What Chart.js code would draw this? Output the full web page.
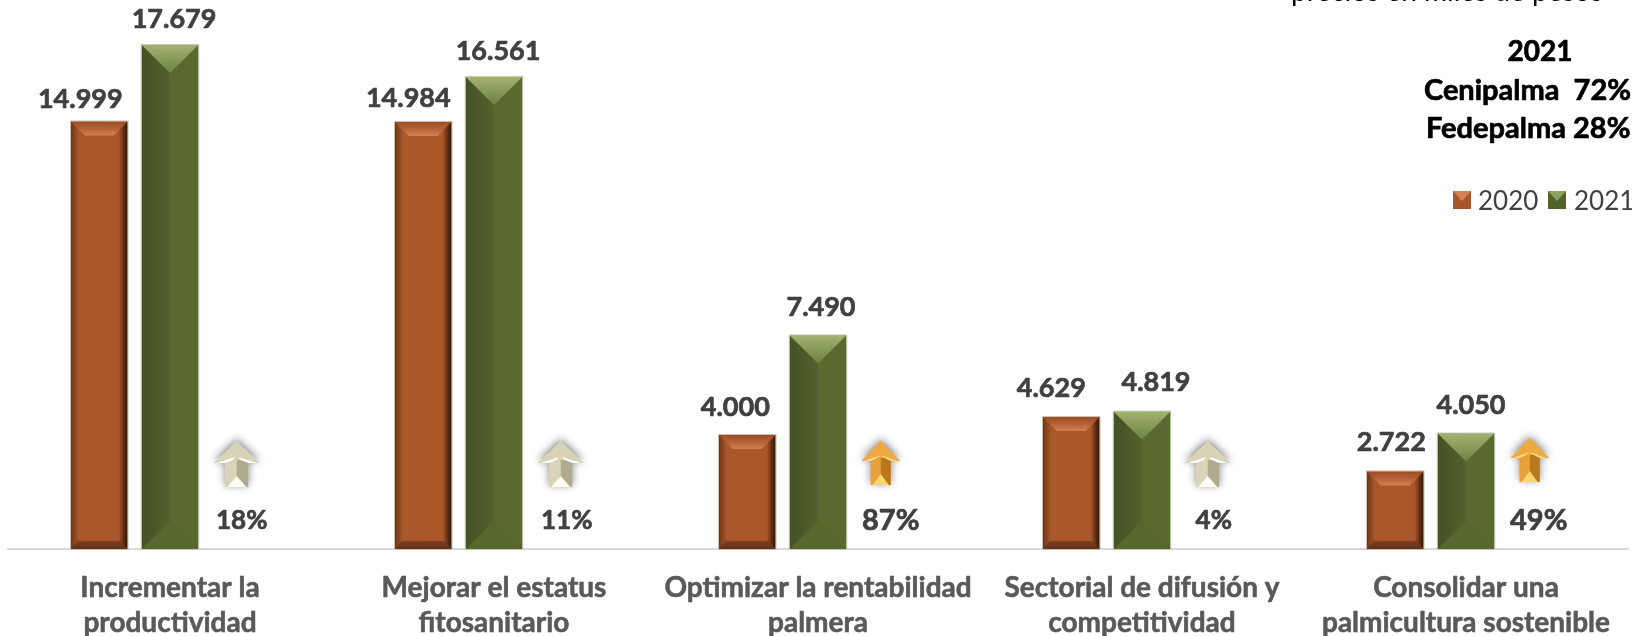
<!DOCTYPE html>
<html>
<head>
<meta charset="utf-8">
<style>
  html, body { margin: 0; padding: 0; background: #fff; overflow: hidden; }
  #wrap { width: 1632px; height: 636px; }
</style>
<script src="https://cdn.jsdelivr.net/npm/chart.js@4"></script>
</head>
<body>
<div id="wrap"><canvas id="chart"></canvas></div>
<script>
// values
var categories = [
  ['Incrementar la', 'productividad'],
  ['Mejorar el estatus', 'fitosanitario'],
  ['Optimizar la rentabilidad', 'palmera'],
  ['Sectorial de difusión y', 'competitividad'],
  ['Consolidar una', 'palmicultura sostenible']
];
var values2020 = [14999, 14984, 4000, 4629, 2722];
var values2021 = [17679, 16561, 7490, 4819, 4050];
var growthPct = [18, 11, 87, 4, 49];
var sideNote = ['2021', 'Cenipalma  72%', 'Fedepalma 28%'];
var clippedLine = 'precios en miles de pesos';

// hand nudges, the labels in the original were dragged around
var labelNudge2020 = [[-19, -22], [-15, -24], [-12, -28], [-20, -29], [-4, -29]];
var labelNudge2021 = [[4, -26], [4, -26], [3, -28], [14, -29], [5, -28]];
var arrowNudge = [[-4, 0], [-4, 0], [-8, 0], [-5, 0], [-7, -3]];
var pctNudgeX = [1, 2, 2, 1, 2];

var FONT = 'Lato, "Open Sans", sans-serif';
var INK = '#404040';

function fmt(v) {
  return String(v).replace(/\B(?=(\d{3})+$)/g, '.');
}

function hGrad(ctx, x0, x1, stops) {
  var g = ctx.createLinearGradient(x0, 0, x1, 0);
  stops.forEach(function (s) { g.addColorStop(s[0], s[1]); });
  return g;
}

function vGrad(ctx, y0, y1, stops) {
  var g = ctx.createLinearGradient(0, y0, 0, y1);
  stops.forEach(function (s) { g.addColorStop(s[0], s[1]); });
  return g;
}

function poly(ctx, pts, fill) {
  ctx.beginPath();
  ctx.moveTo(pts[0][0], pts[0][1]);
  for (var i = 1; i < pts.length; i++) ctx.lineTo(pts[i][0], pts[i][1]);
  ctx.closePath();
  ctx.fillStyle = fill;
  ctx.fill();
}

// Lato bold is a bit thinner than the original face
function heavyText(ctx, text, x, y, color) {
  ctx.fillStyle = color;
  ctx.strokeStyle = color;
  ctx.lineWidth = 0.7;
  ctx.lineJoin = 'round';
  ctx.strokeText(text, x, y);
  ctx.fillText(text, x, y);
}

function drawOrangeBar(ctx, l, r, t, b) {
  ctx.fillStyle = hGrad(ctx, l, r, [
    [0, '#6e3616'], [0.14, '#a9562a'], [0.84, '#aa572a'], [0.92, '#6b3312'], [1, '#2e1405']
  ]);
  ctx.fillRect(l, t, r - l, b - t);
  var bevel = 14;
  poly(ctx, [[l, t], [r, t], [r - bevel, t + bevel], [l + bevel, t + bevel]],
    vGrad(ctx, t, t + bevel, [[0, '#9c4c20'], [0.5, '#b5623a'], [1, '#d67f52']]));
  poly(ctx, [[l + 7, b - 8], [r - 7, b - 8], [r, b], [l, b]],
    vGrad(ctx, b - 8, b, [[0, '#7a4023'], [1, '#5f3018']]));
  ctx.strokeStyle = '#c9bfb0';
  ctx.lineWidth = 1;
  ctx.strokeRect(l - 0.5, t - 0.5, r - l + 1, b - t + 1);
}

function drawGreenBar(ctx, l, r, t, b) {
  var m = (l + r) / 2;
  ctx.fillStyle = hGrad(ctx, l, m, [[0, '#445126'], [1, '#53622d']]);
  ctx.fillRect(l, t, m - l, b - t);
  ctx.fillStyle = '#59692f';
  ctx.fillRect(m, t, r - m, b - t);
  poly(ctx, [[l, b], [m, b - 28], [r, b]], '#56682d');
  poly(ctx, [[l, t], [r, t], [m, t + 28]],
    vGrad(ctx, t, t + 28, [[0, '#a3b26f'], [1, '#6d8243']]));
  ctx.strokeStyle = '#c3c8b0';
  ctx.lineWidth = 1;
  ctx.strokeRect(l - 0.5, t - 0.5, r - l + 1, b - t + 1);
}

function drawArrow(ctx, cx, tip, warm) {
  var headW = warm ? 39 : 46;
  var shaftW = warm ? 20 : 23;
  var headH = warm ? 20 : 22;
  var total = warm ? 44 : 46;
  var c = warm
    ? { light: '#e8a23c', dark: '#b9771f', top: '#f0a93f', tri: '#fbd36f', glint: '#fbd98a' }
    : { light: '#d9d4b8', dark: '#b0aa8e', top: '#d8d3b6', tri: '#fffef4', glint: '#ffffff' };
  var base = tip + headH;
  var bot = tip + total;
  var hw = headW / 2;
  var sw = shaftW / 2;
  var outline = [[cx, tip], [cx + hw, base], [cx + sw, base], [cx + sw, bot], [cx - sw, bot], [cx - sw, base], [cx - hw, base]];

  ctx.save();
  ctx.shadowColor = 'rgba(60,60,60,0.65)';
  ctx.shadowBlur = 9;
  ctx.shadowOffsetY = -2;
  poly(ctx, outline, c.top);
  ctx.restore();

  poly(ctx, [[cx - sw, base - 3], [cx, base - 3], [cx, bot], [cx - sw, bot]], c.light);
  poly(ctx, [[cx, base - 3], [cx + sw, base - 3], [cx + sw, bot], [cx, bot]], c.dark);
  poly(ctx, [[cx - sw + 2, bot], [cx, bot - 11], [cx + sw - 2, bot]], c.tri);
  poly(ctx, [[cx - hw + 3, base], [cx - sw + 10, base - 6], [cx - 4, base - 3], [cx - sw, base]], c.glint);
  poly(ctx, [[cx + hw - 3, base], [cx + sw - 10, base - 6], [cx + 4, base - 3], [cx + sw, base]], c.glint);
}

function drawSwatch(ctx, x, y, s, kind) {
  var m = x + s / 2;
  if (kind === 0) {
    ctx.fillStyle = '#a9552a';
    ctx.fillRect(x, y, s, s);
    poly(ctx, [[x, y], [x + s, y], [m, y + s * 0.55]], '#d67f52');
  } else {
    ctx.fillStyle = '#52622d';
    ctx.fillRect(x, y, s, s);
    poly(ctx, [[x, y], [x + s, y], [m, y + s * 0.55]], '#8fa25f');
  }
}

var bevelPlugin = {
  id: 'bevelPlugin',
  afterDatasetsDraw: function (chart) {
    var ctx = chart.ctx;
    var metaA = chart.getDatasetMeta(0).data;
    var metaB = chart.getDatasetMeta(1).data;
    var metaC = chart.getDatasetMeta(2).data;
    var base = chart.scales.y.getPixelForValue(0);

    ctx.save();
    categories.forEach(function (c, i) {
      var a = metaA[i];
      var b = metaB[i];
      drawOrangeBar(ctx, a.x - a.width / 2, a.x + a.width / 2, a.y, a.base);
      drawGreenBar(ctx, b.x - b.width / 2, b.x + b.width / 2, b.y, b.base);

      ctx.font = 'bold 27px ' + FONT;
      ctx.textAlign = 'center';
      ctx.textBaseline = 'middle';
      heavyText(ctx, fmt(values2020[i]), a.x + labelNudge2020[i][0], a.y + labelNudge2020[i][1], INK);
      heavyText(ctx, fmt(values2021[i]), b.x + labelNudge2021[i][0], b.y + labelNudge2021[i][1], INK);

      // third series only carries the growth arrow and its percentage
      var p = metaC[i];
      var warm = growthPct[i] >= 40;
      drawArrow(ctx, p.x + arrowNudge[i][0], base - 108 + arrowNudge[i][1], warm);
      ctx.font = 'bold ' + (warm ? 29 : 26) + 'px ' + FONT;
      heavyText(ctx, growthPct[i] + '%', p.x + pctNudgeX[i], base - 28, INK);
    });

    // note and legend at the top right
    ctx.font = 'bold 28px ' + FONT;
    ctx.textAlign = 'center';
    heavyText(ctx, sideNote[0], 1540, 52, '#000');
    ctx.textAlign = 'left';
    ctx.font = 'bold 29px ' + FONT;
    heavyText(ctx, sideNote[1], 1424, 91, '#000');
    heavyText(ctx, sideNote[2], 1426, 129, '#000');

    ctx.font = '26px ' + FONT;
    drawSwatch(ctx, 1453, 191, 18, 0);
    ctx.fillStyle = INK;
    ctx.fillText(chart.data.datasets[0].label, 1478, 202);
    drawSwatch(ctx, 1548, 191, 18, 1);
    ctx.fillStyle = INK;
    ctx.fillText(chart.data.datasets[1].label, 1574, 202);

    // line cut off by the top edge of the picture
    ctx.fillStyle = '#000';
    ctx.font = '28px ' + FONT;
    ctx.textBaseline = 'alphabetic';
    ctx.fillText(clippedLine, 1291, 1);
    ctx.restore();
  }
};

new Chart(document.getElementById('chart'), {
  type: 'bar',
  data: {
    labels: categories,
    datasets: [
      { label: '2020', data: values2020, backgroundColor: '#a9552a' },
      { label: '2021', data: values2021, backgroundColor: '#56662e' },
      { label: 'crecimiento', data: growthPct, backgroundColor: 'rgba(0,0,0,0)' }
    ]
  },
  options: {
    responsive: true,
    maintainAspectRatio: false,
    animation: false,
    layout: { padding: { left: 8, right: 4, top: 0, bottom: 0 } },
    datasets: { bar: { categoryPercentage: 0.655, barPercentage: 0.8 } },
    plugins: { legend: { display: false }, tooltip: { enabled: false } },
    scales: {
      x: {
        grid: { drawOnChartArea: false, drawTicks: false },
        border: { color: '#d9d9d9', width: 2 },
        afterFit: function (scale) { scale.height = 87; },
        ticks: {
          color: '#595959',
          textStrokeColor: '#595959',
          textStrokeWidth: 0.6,
          padding: 21,
          maxRotation: 0,
          font: { family: FONT, weight: 'bold', size: 28, lineHeight: 1.27 }
        }
      },
      y: { display: false, min: 0, max: 19260 }
    }
  },
  plugins: [bevelPlugin]
});
</script>
</body>
</html>
